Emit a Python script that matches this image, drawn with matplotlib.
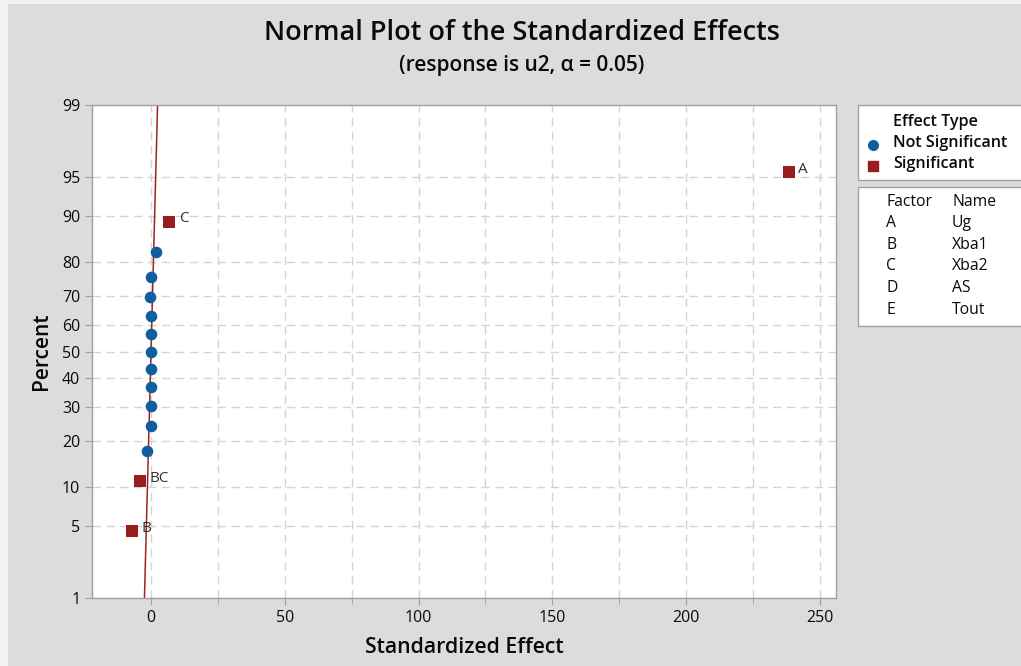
import numpy as np
import matplotlib
matplotlib.use("Agg")
import matplotlib.pyplot as plt
from matplotlib.patches import Rectangle
from matplotlib.lines import Line2D
from statistics import NormalDist

plt.rcParams['font.family'] = ['Open Sans', 'DejaVu Sans']

# effects (standardized effect, percent)
effect_x = [-7.1, -4.0, -1.3, 0.1, 0.1, 0.2, -0.1, 0.0, -0.1, -0.1, -0.2, -0.1, 2.0, 6.8, 238.3]
effect_pct = [4.5, 11.0, 17.5, 24.0, 30.5, 37.0, 43.5, 50.0, 56.5, 63.0, 69.5, 76.0, 82.5, 89.0, 95.5]
significant = [True, True, False, False, False, False, False, False, False, False, False, False, False, True, True]
point_labels = ["B", "BC", "", "", "", "", "", "", "", "", "", "", "", "C", "A"]

# reference line (fitted to non-significant effects)
line_x = [-2.4, 2.5]
line_pct = [1, 99]

y_ticks = [1, 5, 10, 20, 30, 40, 50, 60, 70, 80, 90, 95, 99]
x_ticks = [0, 50, 100, 150, 200, 250]

factors = ["A", "B", "C", "D", "E"]
names = ["Ug", "Xba1", "Xba2", "AS", "Tout"]

blue = "#0f5fa0"
red = "#981e1e"
bg = "#dcdcdc"
txt = "#0a0a0a"

nd = NormalDist()
def fwd(p):
    p = np.clip(np.asarray(p, dtype=float), 1e-4, 100 - 1e-4)
    return np.vectorize(lambda v: nd.inv_cdf(v / 100.0), otypes=[float])(p)
def inv(z):
    z = np.asarray(z, dtype=float)
    return np.vectorize(lambda v: nd.cdf(v) * 100.0, otypes=[float])(z)

fig = plt.figure(figsize=(10.21, 6.66), dpi=100, facecolor="#f2f2f2")
fig.patches.append(Rectangle((8 / 1021, 0), 1, 1 - 4 / 666, transform=fig.transFigure,
                             facecolor=bg, edgecolor="none", zorder=-10))

ax = fig.add_axes([92 / 1021, 68 / 666, 744 / 1021, 493 / 666])
ax.set_facecolor("white")
ax.set_yscale("function", functions=(fwd, inv))
ax.set_ylim(1, 99)
ax.set_xlim(-22, 256)

ax.set_yticks(y_ticks)
ax.set_yticklabels([str(t) for t in y_ticks])
ax.yaxis.set_minor_locator(matplotlib.ticker.NullLocator())
ax.set_xticks(x_ticks)
ax.set_xticks([25, 75, 125, 175, 225], minor=True)

for s in ax.spines.values():
    s.set_color("#a0a0a0")
    s.set_linewidth(1)
ax.tick_params(axis="both", which="major", direction="out", length=5, color="#a0a0a0",
               labelsize=11.5, labelcolor=txt)
ax.tick_params(axis="x", which="minor", direction="out", length=4, color="#a0a0a0")

gridkw = dict(color="#d4d4d4", linestyle=(0, (6, 4)), linewidth=1, zorder=0)
for gx in range(0, 251, 25):
    ax.axvline(gx, **gridkw)
for gy in y_ticks[1:-1]:
    ax.axhline(gy, **gridkw)

ax.plot(line_x, line_pct, color="#9e2424", linewidth=1.1, zorder=2)

ex = np.array(effect_x)
ep = np.array(effect_pct)
sig = np.array(significant)
ax.scatter(ex[~sig], ep[~sig], marker="o", s=70, color=blue, zorder=3, linewidths=0)
ax.scatter(ex[sig], ep[sig], marker="s", s=70, color=red, zorder=3, linewidths=0)
for x, p, lab in zip(effect_x, effect_pct, point_labels):
    if lab:
        ax.annotate(lab, (x, p), xytext=(7, 2), textcoords="offset points",
                    ha="left", va="center", fontsize=11, color="#333333")

ax.set_xlabel("Standardized Effect", fontsize=15.3, fontweight="semibold", color=txt, labelpad=8)
ax.set_ylabel("Percent", fontsize=15, fontweight="semibold", color=txt, labelpad=7)

fig.text(522 / 1021, 1 - 33 / 666, "Normal Plot of the Standardized Effects", ha="center", va="center",
         fontsize=19.5, fontweight="semibold", color=txt)
fig.text(522 / 1021, 1 - 66 / 666, "(response is u2, \u03b1 = 0.05)", ha="center", va="center",
         fontsize=15, fontweight="semibold", color=txt)

# legend boxes
W, H = 1021.0, 666.0
def fx(px):
    return px / W
def fy(py):
    return 1 - py / H

fig.patches.append(Rectangle((fx(858), fy(180)), 0.3, (180 - 105) / H, transform=fig.transFigure,
                             facecolor="white", edgecolor="#a0a0a0", linewidth=1))
fig.patches.append(Rectangle((fx(858), fy(326)), 0.3, (326 - 187) / H, transform=fig.transFigure,
                             facecolor="white", edgecolor="#a0a0a0", linewidth=1))

fig.text(fx(893), fy(122), "Effect Type", ha="left", va="center", fontsize=11.6, fontweight="semibold", color=txt)
fig.text(fx(893), fy(143), "Not Significant", ha="left", va="center", fontsize=11.6, fontweight="semibold", color=txt)
fig.text(fx(893), fy(164), "Significant", ha="left", va="center", fontsize=11.6, fontweight="semibold", color=txt)
fig.lines.append(Line2D([fx(873)], [fy(145)], marker="o", markersize=7, color=blue, linestyle="none",
                        transform=fig.transFigure))
fig.lines.append(Line2D([fx(873)], [fy(166)], marker="s", markersize=7, color=red, linestyle="none",
                        transform=fig.transFigure))

fig.text(fx(886), fy(202), "Factor", ha="left", va="center", fontsize=11.3, color=txt)
fig.text(fx(952), fy(202), "Name", ha="left", va="center", fontsize=11.3, color=txt)
for i, (f, n) in enumerate(zip(factors, names)):
    yy = 223 + i * 21.7
    fig.text(fx(886), fy(yy), f, ha="left", va="center", fontsize=11.3, color=txt)
    fig.text(fx(952), fy(yy), n, ha="left", va="center", fontsize=11.3, color=txt)

fig.savefig("out.png", dpi=100, facecolor=fig.get_facecolor())
